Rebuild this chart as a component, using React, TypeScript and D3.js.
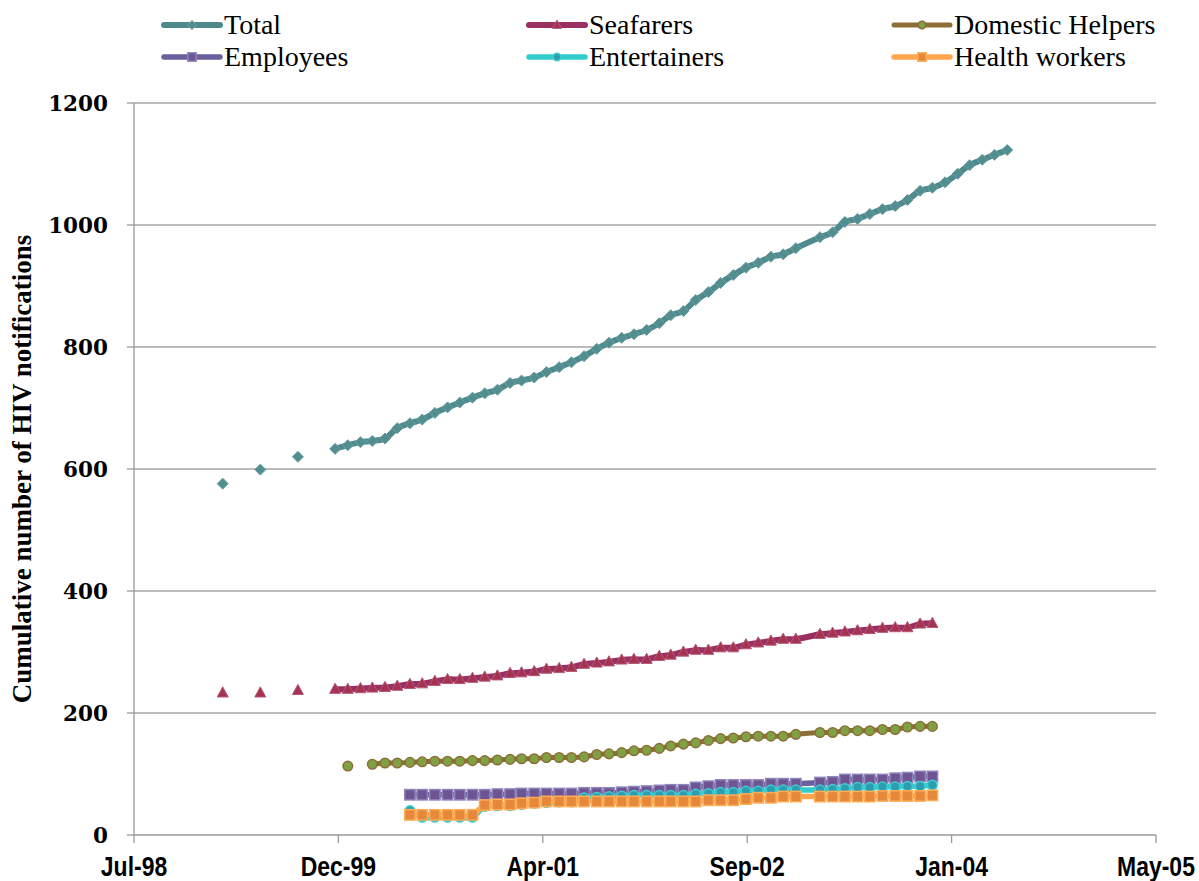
import * as d3 from "d3"

// Monthly rows (Feb-2003 is not in the data)
const months = [
  "1999-03", "1999-04", "1999-05", "1999-06", "1999-07", "1999-08", "1999-09", "1999-10", "1999-11", "1999-12",
  "2000-01", "2000-02", "2000-03", "2000-04", "2000-05", "2000-06", "2000-07", "2000-08", "2000-09", "2000-10", "2000-11", "2000-12",
  "2001-01", "2001-02", "2001-03", "2001-04", "2001-05", "2001-06", "2001-07", "2001-08", "2001-09", "2001-10", "2001-11", "2001-12",
  "2002-01", "2002-02", "2002-03", "2002-04", "2002-05", "2002-06", "2002-07", "2002-08", "2002-09", "2002-10", "2002-11", "2002-12",
  "2003-01", "2003-03", "2003-04", "2003-05", "2003-06", "2003-07", "2003-08", "2003-09", "2003-10", "2003-11", "2003-12",
  "2004-01", "2004-02", "2004-03", "2004-04", "2004-05", "2004-06",
]

const _ = null

const total = [
  576, _, _, 599, _, _, 620, _, _, 633,
  639, 644, 646, 650, 667, 675, 681, 692, 701, 709, 717, 724,
  730, 741, 745, 750, 759, 767, 775, 785, 797, 807, 815, 821,
  828, 839, 852, 859, 877, 890, 905, 918, 930, 938, 948, 952,
  962, 980, 988, 1005, 1010, 1018, 1026, 1031, 1041, 1056, 1061,
  1070, 1084, 1098, 1107, 1115, 1123,
]

const seafarers = [
  233, _, _, 233, _, _, 237, _, _, 239,
  239, 240, 241, 242, 244, 247, 248, 252, 255, 255, 257, 259,
  261, 265, 266, 268, 272, 273, 275, 280, 282, 284, 287, 288,
  288, 293, 295, 300, 303, 303, 307, 307, 312, 315, 318, 321,
  321, 329, 331, 333, 335, 337, 339, 340, 340, 346, 347,
  _, _, _, _, _, _,
]

const domesticHelpers = [
  _, _, _, _, _, _, _, _, _, _,
  113, _, 116, 118, 118, 119, 120, 121, 121, 121, 122, 122,
  123, 124, 125, 125, 127, 127, 127, 128, 132, 133, 135, 138,
  139, 142, 146, 149, 151, 155, 158, 159, 161, 162, 162, 162,
  165, 168, 168, 171, 171, 171, 173, 173, 177, 178, 178,
  _, _, _, _, _, _,
]

const employees = [
  _, _, _, _, _, _, _, _, _, _,
  _, _, _, _, _, 66, 66, 66, 66, 66, 66, 66,
  67, 67, 68, 68, 68, 68, 68, 69, 69, 69, 70, 71,
  72, 73, 74, 74, 78, 80, 82, 82, 82, 82, 84, 84,
  84, 86, 87, 91, 91, 91, 91, 93, 94, 96, 96,
  _, _, _, _, _, _,
]

const entertainers = [
  _, _, _, _, _, _, _, _, _, _,
  _, _, _, _, _, 40, 29, 29, 29, 29, 29, 47,
  48, 48, 50, 52, 53, 54, 54, 61, 62, 63, 64, 65,
  65, 65, 65, 65, 67, 68, 70, 70, 72, 72, 74, 74,
  74, 74, 75, 76, 78, 78, 79, 79, 80, 80, 82,
  _, _, _, _, _, _,
]

const healthWorkers = [
  _, _, _, _, _, _, _, _, _, _,
  _, _, _, _, _, 33, 33, 33, 33, 33, 33, 49,
  50, 50, 52, 53, 55, 55, 55, 55, 55, 55, 55, 55,
  55, 55, 55, 55, 55, 57, 57, 57, 59, 61, 61, 63,
  63, 63, 63, 63, 63, 63, 64, 64, 64, 64, 65,
  _, _, _, _, _, _,
]

const yTicks = [0, 200, 400, 600, 800, 1000, 1200]

type Shape = "diamond" | "triangle" | "circle" | "square"

const series: {
  name: string
  values: (number | null)[]
  line: string
  width: number
  shape: Shape
  fill: string
  stroke: string
  size: number
}[] = [
  { name: "Total", values: total, line: "#4E8A8C", width: 6, shape: "diamond", fill: "#528E90", stroke: "#6A9FA1", size: 5.5 },
  { name: "Seafarers", values: seafarers, line: "#993061", width: 6, shape: "triangle", fill: "#A3334F", stroke: "#B5567A", size: 5.5 },
  { name: "Domestic Helpers", values: domesticHelpers, line: "#8C6E36", width: 5, shape: "circle", fill: "#7FA043", stroke: "#8C6E36", size: 4.8 },
  { name: "Employees", values: employees, line: "#6A609E", width: 5.5, shape: "square", fill: "#6F5494", stroke: "#8E86BA", size: 5.2 },
  { name: "Entertainers", values: entertainers, line: "#33CCCC", width: 5.5, shape: "circle", fill: "#2F9DB0", stroke: "#3CCFD0", size: 4.8 },
  { name: "Health workers", values: healthWorkers, line: "#FFA64D", width: 5.5, shape: "square", fill: "#E5883B", stroke: "#FFAC55", size: 5.2 },
]

const parseMonth = d3.timeParse("%Y-%m")
const dates = months.map((m) => parseMonth(m) as Date)

function marker(shape: Shape, r: number, fill: string, stroke: string, cx: number, cy: number, key: string) {
  const t = `translate(${cx},${cy})`
  if (shape === "circle") {
    return <circle key={key} cx={cx} cy={cy} r={r} fill={fill} stroke={stroke} strokeWidth={1.5} />
  }
  if (shape === "square") {
    return <rect key={key} x={cx - r} y={cy - r} width={2 * r} height={2 * r} fill={fill} stroke={stroke} strokeWidth={1.5} />
  }
  if (shape === "triangle") {
    return <path key={key} transform={t} d={`M0,${-r * 1.1}L${r},${r * 0.75}L${-r},${r * 0.75}Z`} fill={fill} stroke={stroke} strokeWidth={1} />
  }
  return <path key={key} transform={t} d={`M0,${-r}L${r},0L0,${r}L${-r},0Z`} fill={fill} stroke={stroke} strokeWidth={1} />
}

export default function App() {
  const width = 1199
  const height = 881
  const plot = { left: 134, right: 1156, top: 103, bottom: 835 }

  const x0 = new Date(1998, 6, 27)
  const x1 = d3.timeDay.offset(x0, 2500)
  const x = d3.scaleTime().domain([x0, x1]).range([plot.left, plot.right])
  const y = d3.scaleLinear().domain([0, 1200]).range([plot.bottom, plot.top])
  const xTicks = d3.range(0, 6).map((i) => d3.timeDay.offset(x0, i * 500))
  const fmt = d3.timeFormat("%b-%y")

  const lineGen = d3
    .line<number | null>()
    .defined((v) => v != null)
    .x((_v, i) => x(dates[i]))
    .y((v) => y(v as number))
    .curve(d3.curveCatmullRom.alpha(0.5))

  const legendCols = [164, 529, 894]
  const legendRows = [25, 57]

  return (
    <div style={{ position: "absolute", left: 0, top: 0 }}>
      <svg width={width} height={height} style={{ display: "block", background: "#fff" }}>
        {/* gridlines */}
        {yTicks.filter((t) => t > 0).map((t) => (
          <line key={t} x1={plot.left} x2={plot.right} y1={y(t)} y2={y(t)} stroke="#A6A6A6" strokeWidth={1.3} />
        ))}
        {/* y axis */}
        <line x1={plot.left} x2={plot.left} y1={plot.top} y2={plot.bottom} stroke="#999" strokeWidth={1.3} />
        {yTicks.map((t) => (
          <g key={t}>
            <line x1={plot.left - 7} x2={plot.left} y1={y(t)} y2={y(t)} stroke="#999" strokeWidth={1.3} />
            <text x={108} y={y(t)} dy="0.36em" textAnchor="end" fontFamily="DejaVu Serif" fontWeight="bold" fontSize={21.5}>
              {t}
            </text>
          </g>
        ))}
        {/* x axis */}
        <line x1={plot.left} x2={plot.right} y1={plot.bottom} y2={plot.bottom} stroke="#999" strokeWidth={1.3} />
        {xTicks.map((d, i) => (
          <g key={i}>
            <line x1={x(d)} x2={x(d)} y1={plot.bottom} y2={plot.bottom + 8} stroke="#999" strokeWidth={1.3} />
            <text
              transform={`translate(${x(d)},876) scale(0.85,1)`}
              textAnchor="middle"
              fontFamily="Liberation Sans"
              fontWeight="bold"
              fontSize={27}
            >
              {fmt(d)}
            </text>
          </g>
        ))}
        {/* y axis title */}
        <text
          transform={`translate(31,${(plot.top + plot.bottom) / 2}) rotate(-90)`}
          textAnchor="middle"
          fontFamily="Liberation Serif"
          fontWeight="bold"
          fontSize={27}
        >
          Cumulative number of HIV notifications
        </text>
        {/* series */}
        {series.map((s) => (
          <g key={s.name}>
            <path d={lineGen(s.values) || ""} fill="none" stroke={s.line} strokeWidth={s.width} strokeLinejoin="round" />
            {s.values.map((v, i) =>
              v == null ? null : marker(s.shape, s.size, s.fill, s.stroke, x(dates[i]), y(v), `${s.name}-${i}`)
            )}
          </g>
        ))}
        {/* legend */}
        {series.map((s, i) => {
          const lx = legendCols[i % 3]
          const ly = legendRows[Math.floor(i / 3)]
          return (
            <g key={s.name}>
              <line x1={lx} x2={lx + 56} y1={ly} y2={ly} stroke={s.line} strokeWidth={s.width} strokeLinecap="round" />
              {marker(s.shape, s.size - 1, s.fill, s.stroke, lx + 28, ly, `lg-${s.name}`)}
              <text x={lx + 60} y={ly + 9} fontFamily="Liberation Serif" fontSize={28}>
                {s.name}
              </text>
            </g>
          )
        })}
      </svg>
    </div>
  )
}
